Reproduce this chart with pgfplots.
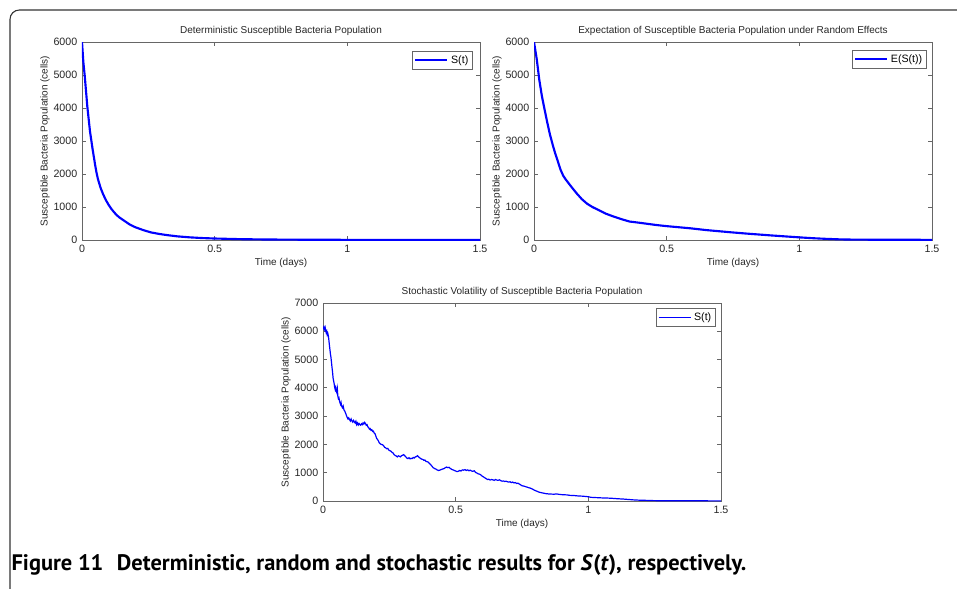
\documentclass[border=0pt]{standalone}
\usepackage{pgfplots}
\pgfplotsset{compat=1.18}
\usepackage{graphicx}
\usepackage{fontspec}
\setmainfont{Liberation Sans}
\newfontfamily\capfont{PT Sans}
\definecolor{mblue}{RGB}{0,0,255}
\pgfplotsset{
 every axis title shift=0pt,
 matlab/.style={
  width=298.5pt, height=148.5pt, scale only axis,
  xmin=0, xmax=1.5, ymin=0,
  xtick={0,0.5,1,1.5},
  tick align=inside, xtick pos=both, ytick pos=both,
  major tick length=3pt,
  axis line style={black!60, line width=0.6pt},
  every tick/.style={black!60, line width=0.6pt},
  tick label style={font=\fontsize{8}{9}\selectfont, text=black!85},
  /pgf/number format/assume math mode=true,
  /pgf/number format/1000 sep={},
  scaled y ticks=false,
  label style={font=\fontsize{7.5}{9}\selectfont, text=black!85},
  xlabel={Time (days)},
  ylabel={Susceptible Bacteria Population (cells)},
  xlabel style={at={(axis description cs:0.5,-0.116)}, anchor=center},
  ylabel style={at={(axis description cs:-0.093,0.5)}, anchor=center},
  title style={at={(axis description cs:0.5,1.056)}, anchor=center, font=\fontsize{7.5}{9}\selectfont, text=black!85},
  legend style={draw=black!60, fill=white, font=\fontsize{8}{9}\selectfont, inner sep=1.2pt},
  legend image code/.code={\draw[#1] (0pt,0pt) -- (24pt,0pt);},
  legend cell align=left,
 }
}
\begin{document}
\begin{tikzpicture}
\path[use as bounding box] (0pt,0pt) rectangle (717.75pt,-441.75pt);
\draw[black!80, line width=0.8pt, rounded corners=7pt] (7.5pt,-441.75pt) -- (7.5pt,-7.5pt) -- (717.75pt,-7.5pt);

% top-left
\begin{axis}[matlab, at={(61.5pt,-180pt)}, anchor=south west,
  ymax=6000, ytick={0,1000,...,6000},
  title={Deterministic Susceptible Bacteria Population},
  legend style={at={(axis description cs:0.982,0.955)}, anchor=north east}]
\addplot[mblue, line width=1.6pt] coordinates {
(0,6000) (0.005,5400) (0.01,5000) (0.02,4050) (0.03,3300) (0.04,2750) (0.05,2250)
(0.055,2030) (0.06,1850) (0.07,1580) (0.08,1380) (0.09,1210) (0.10,1070) (0.11,950)
(0.12,850) (0.13,760) (0.14,690) (0.156,600) (0.18,470) (0.20,390) (0.231,300)
(0.26,230) (0.29,185) (0.319,150) (0.36,110) (0.407,80) (0.45,60) (0.50,45)
(0.6,25) (0.7,15) (0.8,10) (1.0,5) (1.5,2)};
\addlegendentry{S(t)}
\end{axis}

% top-right
\begin{axis}[matlab, at={(400.5pt,-180pt)}, anchor=south west,
  ymax=6000, ytick={0,1000,...,6000},
  title={Expectation of Susceptible Bacteria Population under Random Effects},
  legend style={at={(axis description cs:0.987,0.96)}, anchor=north east}]
\addplot[mblue, line width=1.6pt] coordinates {
(0,6000) (0.01,5500) (0.02,4850) (0.03,4350) (0.04,3950) (0.05,3560) (0.06,3200)
(0.07,2900) (0.08,2620) (0.09,2380) (0.10,2130) (0.11,1950) (0.12,1830) (0.14,1620)
(0.16,1420) (0.18,1240) (0.20,1100) (0.22,1000) (0.25,880) (0.27,800) (0.30,710)
(0.33,630) (0.36,560) (0.40,520) (0.46,455) (0.50,420) (0.59,354) (0.65,300)
(0.74,235) (0.80,195) (0.90,135) (1.00,80) (1.05,55) (1.10,35) (1.15,20)
(1.20,12) (1.30,8) (1.50,5)};
\addlegendentry{E(S(t))}
\end{axis}

% bottom
\begin{axis}[matlab, at={(242.25pt,-375.75pt)}, anchor=south west,
  ymax=7000, ytick={0,1000,...,7000},
  title={Stochastic Volatility of Susceptible Bacteria Population},
  legend image post style={draw=mblue, line width=1.1pt},
  legend style={at={(axis description cs:0.987,0.975)}, anchor=north east}]
\addplot[mblue, line width=0.9pt] coordinates {
(0.000,6080) (0.003,6150) (0.005,6060) (0.008,6140) (0.010,6020) (0.012,5950)
(0.014,6000) (0.016,5880) (0.018,5930) (0.020,5850) (0.022,5700) (0.024,5520)
(0.026,5360) (0.028,5200) (0.030,5080) (0.032,4900) (0.034,4720) (0.036,4560)
(0.038,4350) (0.040,4250) (0.042,4150) (0.044,4020) (0.046,3940) (0.048,4010)
(0.050,3880) (0.052,3830) (0.054,3960) (0.056,3700) (0.058,3620) (0.060,3650)
(0.063,3500) (0.066,3420) (0.068,3480) (0.070,3360) (0.073,3300) (0.076,3360)
(0.079,3220) (0.082,3180) (0.085,3110) (0.088,3030) (0.091,2960) (0.094,2900)
(0.097,2940) (0.100,2880) (0.103,2830) (0.106,2900) (0.109,2830) (0.112,2790)
(0.115,2850) (0.118,2800) (0.121,2760) (0.124,2820) (0.127,2700) (0.130,2760)
(0.133,2690) (0.136,2740) (0.139,2700) (0.142,2680) (0.145,2730) (0.148,2700)
(0.151,2760) (0.154,2720) (0.157,2780) (0.160,2740) (0.163,2680) (0.166,2700)
(0.169,2620) (0.172,2600) (0.175,2540) (0.178,2560) (0.181,2500) (0.184,2520)
(0.187,2460) (0.190,2470) (0.193,2400) (0.196,2380) (0.199,2300) (0.202,2220)
(0.205,2180) (0.208,2140) (0.212,2060) (0.216,2020) (0.220,2000) (0.224,1990)
(0.228,1960) (0.232,1900) (0.236,1880) (0.240,1850) (0.244,1860) (0.248,1800)
(0.252,1780) (0.256,1760) (0.260,1720) (0.264,1700) (0.268,1640) (0.272,1610)
(0.276,1590) (0.280,1560) (0.284,1600) (0.288,1580) (0.292,1560) (0.296,1600)
(0.300,1620) (0.304,1640) (0.308,1600) (0.312,1560) (0.316,1520) (0.320,1500)
(0.324,1530) (0.328,1490) (0.332,1510) (0.336,1500) (0.340,1540) (0.344,1520)
(0.348,1560) (0.352,1570) (0.356,1600) (0.360,1560) (0.364,1530) (0.368,1500)
(0.372,1480) (0.376,1470) (0.380,1440) (0.384,1450) (0.388,1400) (0.392,1390)
(0.396,1380) (0.400,1340) (0.405,1290) (0.410,1240) (0.415,1180) (0.420,1150)
(0.425,1130) (0.430,1100) (0.435,1080) (0.440,1090) (0.445,1110) (0.450,1130)
(0.455,1140) (0.460,1170) (0.465,1200) (0.470,1180) (0.475,1190) (0.480,1150)
(0.485,1120) (0.490,1100) (0.495,1080) (0.500,1060) (0.505,1040) (0.510,1050)
(0.515,1080) (0.520,1060) (0.525,1100) (0.530,1090) (0.535,1110) (0.540,1080)
(0.545,1100) (0.550,1070) (0.555,1090) (0.560,1060) (0.565,1050) (0.570,1070)
(0.575,1010) (0.580,990) (0.585,960) (0.590,950) (0.595,920) (0.600,880)
(0.605,850) (0.610,820) (0.615,790) (0.620,760) (0.625,770) (0.630,740)
(0.635,760) (0.640,750) (0.645,730) (0.650,760) (0.655,740) (0.660,730)
(0.665,750) (0.670,720) (0.675,700) (0.680,710) (0.685,690) (0.690,700)
(0.695,680) (0.700,670) (0.705,680) (0.710,650) (0.715,670) (0.720,640)
(0.725,650) (0.730,620) (0.735,630) (0.740,600) (0.745,570) (0.750,540)
(0.755,530) (0.760,520) (0.765,500) (0.770,490) (0.775,470) (0.780,460)
(0.785,440) (0.790,420) (0.795,390) (0.800,370) (0.805,350) (0.810,330)
(0.815,310) (0.820,300) (0.825,290) (0.830,280) (0.840,260) (0.850,250)
(0.860,245) (0.870,240) (0.880,250) (0.890,235) (0.900,225) (0.910,220)
(0.920,215) (0.930,200) (0.940,195) (0.950,190) (0.960,180) (0.970,175)
(0.980,170) (0.990,160) (1.000,150) (1.010,130) (1.030,120) (1.050,110)
(1.070,105) (1.090,95) (1.110,80) (1.130,70) (1.150,55) (1.170,40)
(1.190,30) (1.210,25) (1.240,15) (1.270,10) (1.300,8) (1.400,6) (1.500,5)};
\addlegendentry{S(t)}
\end{axis}

\node[anchor=west, inner sep=0pt] at (8.5pt,-423.75pt) {\resizebox{551pt}{!}{\capfont\fontsize{13}{15}\selectfont\bfseries Figure 11\hspace{0.6em}Deterministic, random and stochastic results for \textit{S}(\textit{t}), respectively.}};
\end{tikzpicture}
\end{document}
